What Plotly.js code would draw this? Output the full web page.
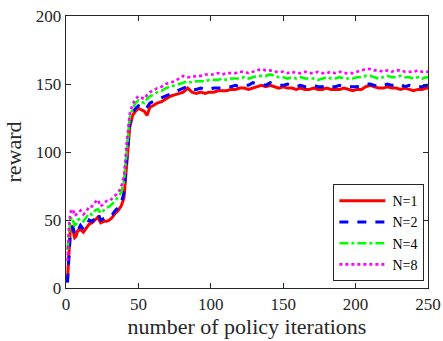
<!DOCTYPE html>
<html>
<head>
<meta charset="utf-8">
<script src="https://cdn.plot.ly/plotly-3.0.1.min.js"></script>
<style>html,body{margin:0;padding:0;background:#fff;}#chart{width:443px;height:341px;}</style>
</head>
<body>
<div id="chart"></div>
<script>
var iterations = [1,2,3,4,5,6,7,8,10,12,14,16,18,20,22,24,26,28,30,32,34,36,38,40,42,44,46,48,50,52,54,56,58,60,
63,66,69,72,75,78,81,84,87,90,93,96,99,102,105,108,111,114,117,120,123,126,129,132,135,138,141,144,147,150,
153,156,159,162,165,168,171,174,177,180,183,186,189,192,195,198,201,204,207,210,213,216,219,222,225,228,231,234,237,240,243,246,249,250];

var rewardN1 = [5,30,44,46,40,37,38,42,43,41,44,47,48,50,52,48,49,49,50,52,55,57,60,66,90,118,127,130,132,131,130,127,133,134,
136,137,139,141,142,143,144,147,144,143,144,143,144,144,145,145,145,146,146,147,147,146,147,148,149,148,149,148,147,148,
147,147,146,147,146,146,147,146,146,147,146,146,146,147,146,145,146,146,148,149,148,147,147,148,147,147,146,147,146,145,146,146,147,147];

var rewardN2 = [4,25,40,45,44,40,39,42,46,43,45,50,49,51,55,50,51,52,52,54,57,59,62,70,95,121,129,132,134,133,131,133,136,137,
138,140,141,143,144,146,147,148,146,146,147,146,146,147,147,147,148,148,149,148,149,149,151,150,150,149,151,150,149,149,
150,149,148,149,148,148,149,148,148,149,148,148,149,148,148,148,148,149,150,150,149,148,149,150,149,149,150,148,149,148,148,148,149,149];

var rewardN4 = [28,42,50,52,49,46,47,50,51,49,52,55,54,57,58,55,57,59,60,62,64,67,70,78,103,125,132,136,138,137,136,139,141,142,
144,145,147,148,149,150,151,152,151,152,152,152,153,153,153,154,153,154,154,154,155,154,155,156,156,156,157,156,155,155,
154,155,154,155,154,154,154,153,154,155,154,154,155,154,154,154,155,155,156,156,155,154,155,156,155,155,156,155,155,154,155,154,155,155];

var rewardN8 = [20,45,55,58,57,53,54,55,57,54,56,60,60,63,65,60,62,64,64,66,68,70,74,82,108,128,135,139,141,140,139,142,144,145,
147,148,150,151,152,154,156,155,155,156,156,157,157,157,158,157,158,158,158,159,159,158,159,160,161,160,160,159,159,159,
158,159,158,158,159,158,158,159,158,158,159,158,159,158,158,158,159,160,161,161,160,160,159,160,159,160,160,159,159,159,160,159,159,159];

var seriesNames = ['N=1','N=2','N=4','N=8'];
var seriesValues = [rewardN1, rewardN2, rewardN4, rewardN8];
var seriesColors = ['#FF0000','#0000FF','#00FF00','#FF00FF'];
var seriesDash = ['solid','dash','dashdot','dot'];
var seriesWidth = [3,3,2.6,2.6];

var xTickVals = [0,50,100,150,200,250];
var yTickVals = [0,50,100,150,200];

var serif = 'Liberation Serif';

var traces = seriesNames.map(function(name, i){
  return {
    x: iterations, y: seriesValues[i], name: name, type: 'scatter', mode: 'lines',
    line: {color: seriesColors[i], dash: seriesDash[i], width: seriesWidth[i]}
  };
});

var axisCommon = {
  showline: true, linecolor: '#262626', linewidth: 1.3, mirror: 'ticks',
  ticks: 'inside', ticklen: 5, tickcolor: '#262626', tickwidth: 1,
  showgrid: false, zeroline: false,
  tickfont: {family: serif, size: 17, color: '#262626'}
};

var layout = {
  width: 443, height: 341,
  margin: {l: 66, r: 15, t: 16, b: 53},
  paper_bgcolor: '#ffffff', plot_bgcolor: '#ffffff',
  font: {family: serif, color: '#262626'},
  showlegend: true,
  xaxis: Object.assign({}, axisCommon, {
    range: [0, 250], tickvals: xTickVals, ticktext: xTickVals.map(String),
    title: {text: 'number of policy iterations', font: {family: serif, size: 22, color: '#262626'}, standoff: 4}
  }),
  yaxis: Object.assign({}, axisCommon, {
    range: [0, 200], tickvals: yTickVals, ticktext: yTickVals.map(String),
    title: {text: 'reward', font: {family: serif, size: 22, color: '#262626'}, standoff: 8}
  }),
  legend: {
    x: 0.99, y: 0.025, xanchor: 'right', yanchor: 'bottom',
    bgcolor: '#ffffff', bordercolor: '#262626', borderwidth: 1,
    font: {family: serif, size: 14, color: '#000'},
    tracegroupgap: 0, itemwidth: 48
  }
};

Plotly.newPlot('chart', traces, layout, {staticPlot: true, displayModeBar: false}).then(function(gd){
  // lengthen the legend line samples to match the reference style
  var paths = gd.querySelectorAll('.legend .legendlines path');
  paths.forEach(function(p){ p.setAttribute('d', 'M5,0h46'); });
});
</script>
</body>
</html>
